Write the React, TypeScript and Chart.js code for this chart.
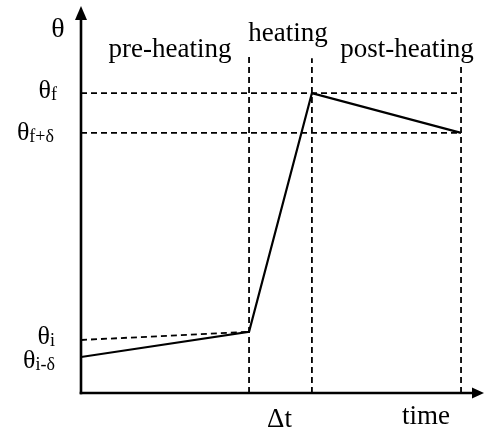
import React, { useEffect, useRef } from "react";
import { Chart, registerables } from "chart.js";

Chart.register(...registerables);

// ---- data (time units 0..100, temperature units 0..100) ----
const solidTimes = [0, 41.7, 57.3, 94.3];
const solidTemps = [9.3, 15.8, 77.5, 67.2];

const thetaIDashTimes = [0, 41.7];
const thetaIDashTemps = [13.7, 15.8];

const levelNames = ["θ", "θ", "θ", "θ"];
const levelSubs = ["f", "f+δ", "i", "i-δ"];
const levelValues = [77.5, 67.2, 13.7, 9.3];
const levelLineEnds = [94.3, 94.3, 0, 0]; // horizontal dashed guide end (0 = none)

const boundaryTimes = [41.7, 57.3, 94.3];
const boundaryTops = [87.0, 86.5, 85.3];

const phaseLabels = ["pre-heating", "heating", "post-heating"];
const xAxisLabels = ["Δt", "time"];
const yAxisLabel = "θ";

// ---- layout / style (pixels) ----
const FONT = "'Liberation Serif', 'Times New Roman', serif";
const phaseCenters = [170, 288, 407];
const phaseBaselines = [57, 41, 57];
const levelBaselineOffsets = [5, 7, 4, 11];
const levelRightEdge = [57, 54, 55, 55];

export default function App() {
  const canvasRef = useRef<HTMLCanvasElement | null>(null);

  useEffect(() => {
    const canvas = canvasRef.current;
    if (!canvas) return;

    const dashed = {
      borderColor: "#000",
      borderWidth: 1.8,
      borderDash: [6, 4],
      pointRadius: 0,
      showLine: true,
      fill: false,
      tension: 0,
    };

    const datasets: any[] = [];
    levelValues.forEach((v, i) => {
      if (levelLineEnds[i] > 0) {
        datasets.push({
          ...dashed,
          data: [
            { x: 0, y: v },
            { x: levelLineEnds[i], y: v },
          ],
        });
      }
    });
    boundaryTimes.forEach((t, i) => {
      datasets.push({
        ...dashed,
        data: [
          { x: t, y: 0 },
          { x: t, y: boundaryTops[i] },
        ],
      });
    });
    datasets.push({
      ...dashed,
      data: thetaIDashTimes.map((t, i) => ({ x: t, y: thetaIDashTemps[i] })),
    });
    datasets.push({
      borderColor: "#000",
      borderWidth: 2.2,
      pointRadius: 0,
      showLine: true,
      fill: false,
      tension: 0,
      data: solidTimes.map((t, i) => ({ x: t, y: solidTemps[i] })),
    });

    const overlay = {
      id: "overlay",
      afterDraw(chart: any) {
        const ctx = chart.ctx as CanvasRenderingContext2D;
        const { left, right, top, bottom } = chart.chartArea;
        const xs = chart.scales.x;
        const ys = chart.scales.y;
        ctx.save();
        ctx.fillStyle = "#000";
        ctx.strokeStyle = "#000";
        ctx.lineWidth = 2.6;
        ctx.setLineDash([]);
        // y axis
        ctx.beginPath();
        ctx.moveTo(left, bottom + 1.3);
        ctx.lineTo(left, top + 10);
        ctx.stroke();
        ctx.beginPath();
        ctx.moveTo(left, top);
        ctx.lineTo(left - 6, top + 14);
        ctx.lineTo(left + 6, top + 14);
        ctx.closePath();
        ctx.fill();
        // x axis
        ctx.beginPath();
        ctx.moveTo(left - 1.3, bottom);
        ctx.lineTo(right - 8, bottom);
        ctx.stroke();
        ctx.beginPath();
        ctx.moveTo(right, bottom);
        ctx.lineTo(right - 12, bottom - 5.5);
        ctx.lineTo(right - 12, bottom + 5.5);
        ctx.closePath();
        ctx.fill();

        ctx.textBaseline = "alphabetic";
        // y axis label
        ctx.font = `28px ${FONT}`;
        ctx.textAlign = "center";
        ctx.fillText(yAxisLabel, 58, 36.5);
        // phase labels
        ctx.font = `27px ${FONT}`;
        phaseLabels.forEach((p, i) => {
          ctx.fillText(p, phaseCenters[i], phaseBaselines[i]);
        });
        // x axis labels
        const dtX = (xs.getPixelForValue(boundaryTimes[0]) + xs.getPixelForValue(boundaryTimes[1])) / 2 - 1;
        ctx.fillText(xAxisLabels[0], dtX, 427);
        ctx.fillText(xAxisLabels[1], 426, 424);
        // level labels
        ctx.textAlign = "left";
        levelValues.forEach((v, i) => {
          const y = ys.getPixelForValue(v) + levelBaselineOffsets[i];
          ctx.font = `18px ${FONT}`;
          const sw = ctx.measureText(levelSubs[i]).width;
          ctx.font = `26px ${FONT}`;
          const mw = ctx.measureText(levelNames[i]).width;
          const x0 = levelRightEdge[i] - sw - mw;
          ctx.fillText(levelNames[i], x0, y);
          ctx.font = `18px ${FONT}`;
          ctx.fillText(levelSubs[i], x0 + mw, y + 2);
        });
        ctx.restore();
      },
    };

    const chart = new Chart(canvas, {
      type: "scatter",
      data: { datasets },
      options: {
        animation: false,
        responsive: true,
        maintainAspectRatio: false,
        layout: { padding: { left: 81, right: 1, top: 6, bottom: 36 } },
        scales: {
          x: { type: "linear", min: 0, max: 100, display: false },
          y: { type: "linear", min: 0, max: 100, display: false },
        },
        plugins: {
          legend: { display: false },
          tooltip: { enabled: false },
        },
        elements: { line: { borderCapStyle: "butt" } },
      },
      plugins: [overlay],
    });
    return () => chart.destroy();
  }, []);

  return (
    <div style={{ position: "fixed", left: 0, top: 0, width: 485, height: 429, background: "#fff" }}>
      <canvas ref={canvasRef} />
    </div>
  );
}
